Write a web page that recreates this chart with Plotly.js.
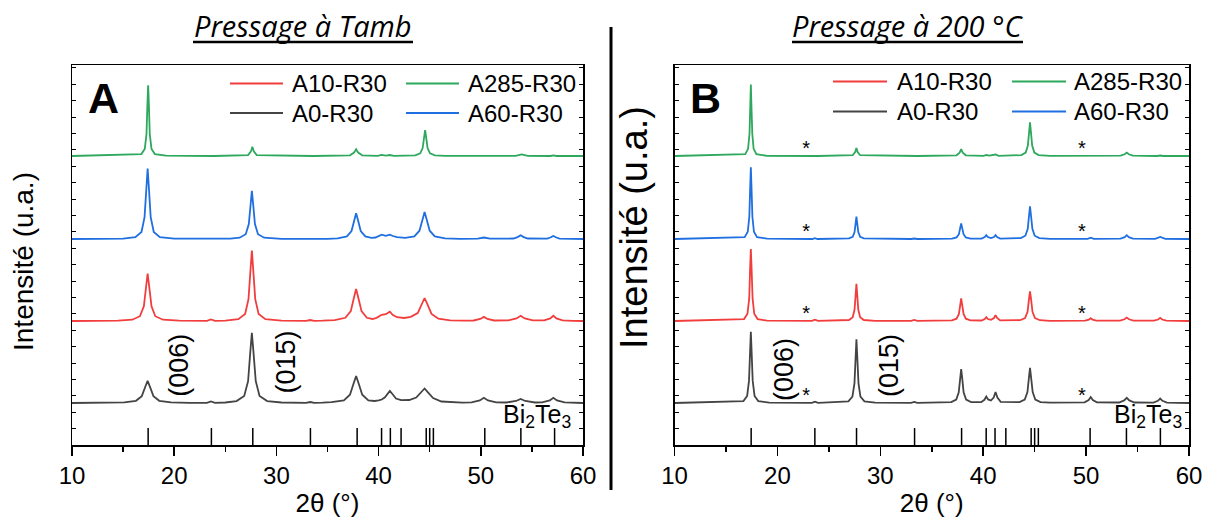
<!DOCTYPE html>
<html><head><meta charset="utf-8">
<script src="https://cdn.plot.ly/plotly-3.0.1.min.js"></script>
<style>html,body{margin:0;padding:0;background:#fff}#chart{width:1210px;height:518px}</style>
</head><body><div id="chart"></div>
<script>
// ---------------- data ----------------
const seriesNames = ['A0-R30', 'A10-R30', 'A60-R30', 'A285-R30'];
const panelTitles = ['Pressage à Tamb', 'Pressage à 200 °C'];
const panelLetters = ['A', 'B'];
const reflexLabels = ['(006)', '(015)'];
const refPhaseLabel = 'Bi<sub>2</sub>Te<sub>3</sub>';
const impurityMark = '*';
const impurityAngles = [22.8, 49.6];
const xTickVals = [10, 20, 30, 40, 50, 60];
const xTitle = '2θ (°)';
const yTitle = 'Intensité (u.a.)';

// Bi2Te3 reference reflections (2θ, °)
const bi2te3Peaks = [17.45, 23.64, 27.69, 33.33, 37.9, 40.29, 41.15, 42.2, 44.66, 45.0, 45.36, 50.39, 53.92, 57.22];

// Pressage à Tamb : [2θ, intensity above own baseline]
const tambA0 = [[10,0],[13.5,0.2],[15.12,0.6],[16.26,2.2],[16.83,6.9],[17.17,16.2],[17.4,22.1],[17.63,16.2],[17.97,6.9],[18.54,2.2],[19.68,0.6],[21.5,0.2],[23.2,0.1],[23.6,1.5],[24.0,0.1],[25.0,0.5],[26.1,1.9],[26.85,7.0],[27.23,21.8],[27.45,51.6],[27.6,70.2],[27.75,51.6],[27.98,21.8],[28.35,7.0],[29.1,1.9],[30.5,0.5],[32.9,0.1],[33.3,1.0],[33.7,0.1],[34.5,0.3],[35.4,0.8],[36.6,2.7],[37.2,8.3],[37.56,19.8],[37.8,26.9],[38.04,19.8],[38.4,8.3],[39.0,2.7],[39.6,2.0],[40.0,2.6],[40.3,3.5],[40.6,5.5],[40.85,9.5],[41.1,12.1],[41.35,9.0],[41.7,4.5],[42.2,2.8],[43.0,3.0],[43.68,5.5],[44.17,10.7],[44.5,14.5],[44.83,10.7],[45.33,5.0],[46.15,1.5],[47.3,0.6],[48.2,0.4],[49.1,0.6],[49.9,2.6],[50.3,5.2],[50.7,2.6],[51.5,0.6],[52.5,0.5],[53.45,2.0],[53.9,4.1],[54.35,2.0],[55.3,0.5],[56.0,0.6],[56.75,2.6],[57.1,5.2],[57.45,2.6],[58.2,0.6],[59,0.2],[60,0]];
const tambA10 = [[10,0],[14.5,0.3],[15.9,1.3],[16.65,4.8],[17.03,14.7],[17.25,34.9],[17.4,47.5],[17.55,34.9],[17.78,14.7],[18.15,4.8],[18.9,1.3],[20.5,0.4],[23.2,0.1],[23.6,1.5],[24.0,0.1],[25.0,0.4],[26.28,1.9],[26.94,7.1],[27.27,21.9],[27.47,51.8],[27.6,70.5],[27.73,51.8],[27.93,21.9],[28.26,7.1],[28.92,1.9],[30.5,0.4],[32.9,0.1],[33.3,1.0],[33.7,0.1],[34.5,0.3],[35.7,0.9],[36.75,3.2],[37.28,9.9],[37.59,23.5],[37.8,32],[38.01,23.5],[38.33,9.9],[38.85,3.2],[39.4,2.0],[39.8,3.2],[40.3,6.2],[40.7,6.8],[41.1,9.3],[41.4,6.0],[41.8,3.8],[42.5,3.0],[43.15,4.2],[43.83,8.0],[44.23,17.5],[44.5,23],[44.77,16.9],[45.18,7.1],[45.85,2.3],[47.0,0.7],[48.3,0.4],[49.3,0.5],[49.95,2.0],[50.3,4.1],[50.65,2.0],[51.3,0.5],[52.7,0.6],[53.5,2.6],[53.9,5.2],[54.3,2.6],[55.1,0.6],[56.2,0.6],[56.8,2.6],[57.1,5.2],[57.4,2.6],[58.0,0.6],[59,0.2],[60,0]];
const tambA60 = [[10,0],[15.0,0.3],[16.2,1.9],[16.8,7.1],[17.1,21.9],[17.28,51.8],[17.4,70.5],[17.52,51.8],[17.7,21.9],[18.0,7.1],[18.6,1.9],[20.0,0.4],[23.3,0],[23.6,0.7],[23.9,0],[25.5,0.3],[26.4,1.3],[27.0,4.8],[27.3,14.9],[27.48,35.4],[27.6,48.2],[27.72,35.4],[27.9,14.9],[28.2,4.8],[28.8,1.3],[30.5,0.2],[33.0,0],[33.3,0.6],[33.6,0],[35.0,0.2],[36.0,0.7],[36.9,2.6],[37.35,8],[37.62,19],[37.8,25.8],[37.98,19],[38.25,8],[38.7,2.6],[39.3,1.2],[39.7,1.5],[40.05,3.0],[40.3,4.4],[40.7,3.2],[41.1,4.4],[41.4,3.0],[41.8,1.8],[42.6,1.2],[43.5,2.7],[44.0,8.3],[44.3,19.8],[44.5,26.9],[44.7,19.8],[45.0,8.3],[45.5,2.7],[46.5,0.7],[48.0,0.2],[49.7,0.3],[50.3,1.5],[50.9,0.3],[53.2,0.5],[53.6,1.9],[53.9,3.8],[54.2,1.9],[54.6,0.5],[56.5,0.4],[56.8,1.5],[57.1,3.1],[57.4,1.5],[57.7,0.4],[59,0.1],[60,0]];
const tambA285 = [[10,0],[16.79,1.9],[17.12,7.1],[17.29,21.9],[17.38,52],[17.45,70.8],[17.52,52],[17.61,21.9],[17.78,7.1],[18.11,1.9],[19.2,0.3],[23.3,0],[23.6,0.5],[23.9,0],[27.23,0.9],[27.51,4.6],[27.65,9.3],[27.79,4.6],[28.07,0.9],[33.0,0],[33.3,0.4],[33.6,0],[37.2,0.7],[37.6,3.4],[37.8,6.8],[38.0,3.4],[38.4,0.7],[39.9,0.1],[40.3,1.2],[40.7,0.4],[41.1,1.0],[41.5,0.1],[43.59,0.7],[44.07,2.6],[44.31,8],[44.45,19],[44.55,25.8],[44.65,19],[44.79,8],[45.03,2.6],[45.51,0.7],[46.5,0.1],[50.0,0],[50.35,0.4],[50.7,0],[53.4,0.1],[54.0,1.6],[54.6,0.1],[56.8,0],[57.1,0.7],[57.4,0],[60,0]];

// Pressage à 200 °C
const hotA0 = [[10,0],[16.7,1.9],[17.06,7.1],[17.24,22.1],[17.35,52.4],[17.42,71.3],[17.49,52.4],[17.6,22.1],[17.78,7.1],[18.14,1.9],[19.2,0.4],[23.35,0.1],[23.65,1.3],[23.95,0.1],[26.9,1.7],[27.29,6.4],[27.49,19.7],[27.6,46.8],[27.68,63.7],[27.76,46.8],[27.88,19.7],[28.07,6.4],[28.46,1.7],[29.5,0.3],[33.0,0.1],[33.3,1.0],[33.6,0.1],[36.9,0.9],[37.38,3.4],[37.62,10.5],[37.76,24.8],[37.86,33.8],[37.96,24.8],[38.1,10.5],[38.34,3.4],[38.82,0.9],[39.8,0.8],[40.12,3.2],[40.3,6.5],[40.48,3.6],[40.75,2.5],[41.02,5.5],[41.2,11],[41.38,5.5],[41.7,1.2],[43.53,0.9],[44.04,3.5],[44.3,10.9],[44.45,25.8],[44.55,35.1],[44.65,25.8],[44.81,10.9],[45.06,3.5],[45.57,0.9],[46.5,0.3],[49.85,0.6],[50.25,3.0],[50.45,5.9],[50.65,3.0],[51.05,0.6],[53.2,0.5],[53.7,2.6],[53.95,5.2],[54.2,2.6],[54.7,0.5],[56.55,0.4],[56.98,2.2],[57.2,4.4],[57.42,2.2],[57.85,0.4],[60,0]];
const hotA10 = [[10,0],[16.76,1.9],[17.09,7.2],[17.26,22.3],[17.35,52.9],[17.42,72],[17.49,52.9],[17.59,22.3],[17.75,7.2],[18.08,1.9],[19.0,0.4],[23.35,0.1],[23.65,1.3],[23.95,0.1],[26.96,1.0],[27.32,3.7],[27.5,11.5],[27.61,27.3],[27.68,37.2],[27.75,27.3],[27.86,11.5],[28.04,3.7],[28.4,1.0],[29.5,0.2],[33.0,0.1],[33.3,1.0],[33.6,0.1],[36.96,0.6],[37.41,2.3],[37.64,7.0],[37.77,16.7],[37.86,22.7],[37.95,16.7],[38.09,7.0],[38.31,2.3],[38.76,0.6],[39.85,0.5],[40.15,1.9],[40.3,3.8],[40.45,2.0],[40.75,1.2],[41.05,3.0],[41.2,5.9],[41.35,3.0],[41.65,0.6],[43.59,0.8],[44.07,3.0],[44.31,9.2],[44.45,21.8],[44.55,29.6],[44.65,21.8],[44.79,9.2],[45.03,3.0],[45.51,0.8],[46.5,0.2],[49.9,0.3],[50.27,1.4],[50.45,2.8],[50.63,1.4],[51.0,0.3],[53.3,0.3],[53.73,1.7],[53.95,3.4],[54.17,1.7],[54.6,0.3],[56.6,0.3],[57.0,1.5],[57.2,3.1],[57.4,1.5],[57.8,0.3],[60,0]];
const hotA60 = [[10,0],[16.82,1.9],[17.12,7.2],[17.27,22.2],[17.36,52.6],[17.42,71.6],[17.48,52.6],[17.57,22.2],[17.72,7.2],[18.02,1.9],[19.0,0.3],[23.4,0],[23.65,0.8],[23.9,0],[26.96,0.6],[27.32,2.2],[27.5,6.9],[27.61,16.5],[27.68,22.4],[27.75,16.5],[27.86,6.9],[28.04,2.2],[28.4,0.6],[33.0,0],[33.3,0.5],[33.6,0],[36.96,0.4],[37.41,1.6],[37.64,4.8],[37.77,11.4],[37.86,15.5],[37.95,11.4],[38.09,4.8],[38.31,1.6],[38.76,0.4],[39.85,0.4],[40.15,1.9],[40.3,3.8],[40.45,1.9],[40.75,0.9],[41.05,1.9],[41.2,3.8],[41.35,1.9],[41.65,0.4],[43.65,0.9],[44.1,3.3],[44.33,10.1],[44.46,24],[44.55,32.7],[44.64,24],[44.78,10.1],[45.0,3.3],[45.45,0.9],[46.5,0.2],[50.15,0.1],[50.45,1.3],[50.75,0.1],[53.35,0.4],[53.75,1.9],[53.95,3.8],[54.15,1.9],[54.55,0.4],[56.7,0.2],[57.2,2.1],[57.7,0.2],[60,0]];
const hotA285 = [[10,0],[16.88,1.9],[17.15,7.2],[17.29,22.2],[17.37,52.6],[17.42,71.6],[17.47,52.6],[17.56,22.2],[17.69,7.2],[17.96,1.9],[19.0,0.2],[23.4,0],[23.65,0.3],[23.9,0],[27.32,0.8],[27.56,4.0],[27.68,7.9],[27.8,4.0],[28.04,0.8],[33.0,0],[33.3,0.3],[33.6,0],[37.41,0.7],[37.71,3.4],[37.86,6.8],[38.01,3.4],[38.31,0.7],[40.05,0.1],[40.3,1.0],[40.6,0.3],[41.2,1.5],[41.5,0.1],[43.71,0.9],[44.13,3.4],[44.34,10.4],[44.47,24.8],[44.55,33.7],[44.63,24.8],[44.76,10.4],[44.97,3.4],[45.39,0.9],[46.5,0.1],[50.2,0],[50.45,0.5],[50.7,0],[53.35,0.3],[53.75,1.7],[53.95,3.4],[54.15,1.7],[54.55,0.3],[56.9,0],[57.2,0.5],[57.5,0],[60,0]];

// ---------------- style / geometry ----------------
const W = 1210, H = 518;
const px = v => v / W, py = v => 1 - v / H;
const FONT = 'Arial';
const seriesColors = ['#444444', '#f23d3d', '#1f6fe0', '#2da85c'];
const stackOffsets = [42, 124, 206, 289];
const stickTop = 17;
const yMax = 380;
const plotTop = 65, plotBottom = 445;

const panels = [
  {xa: 'x', ya: 'y', xd: [72, 583], sets: [tambA0, tambA10, tambA60, tambA285],
   title: {cx: 303, ul: [193, 413]}, letter: 86, legend: {col1: [230, 283, 290], col2: [406, 459, 466], rows: [83.5, 113]},
   ytitle: {x: 23, y: 262, size: 28}, labels: [[20.45, 80], [30.9, 83]], bi: 59.05, stars: false},
  {xa: 'x2', ya: 'y2', xd: [674.5, 1189], sets: [hotA0, hotA10, hotA60, hotA285],
   title: {cx: 908, ul: [792, 1023]}, letter: 688, legend: {col1: [833, 887, 895], col2: [1012, 1066, 1072], rows: [81.5, 111.5]},
   ytitle: {x: 634, y: 228, size: 38}, labels: [[20.64, 76], [30.85, 79]], bi: 59.5, stars: true}
];

const traces = [];
const annotations = [];
const shapes = [];
const layout = {
  width: W, height: H, margin: {l: 0, r: 0, t: 0, b: 0},
  paper_bgcolor: '#fff', plot_bgcolor: '#fff', showlegend: false,
  font: {family: FONT, color: '#000'}, hovermode: false
};

panels.forEach((p, k) => {
  const sfx = k === 0 ? '' : '2';
  const topName = 'xaxis' + (k === 0 ? '3' : '4');
  p.sets.forEach((set, i) => {
    traces.push({
      x: set.map(d => d[0]), y: set.map(d => d[1] + stackOffsets[i]),
      xaxis: p.xa, yaxis: p.ya, mode: 'lines', name: seriesNames[i],
      line: {color: seriesColors[i], width: 1.8}, showlegend: false
    });
  });
  const sx = [], sy = [];
  bi2te3Peaks.forEach(v => { sx.push(v, v, null); sy.push(0, stickTop, null); });
  traces.push({x: sx, y: sy, xaxis: p.xa, yaxis: p.ya, mode: 'lines', name: 'Bi2Te3',
    line: {color: '#000', width: 1.5}, showlegend: false});

  if (p.stars) {
    const ax = [], ay = [], at = [];
    stackOffsets.forEach(off => impurityAngles.forEach(a => { ax.push(a); ay.push(off + 6); at.push(impurityMark); }));
    traces.push({x: ax, y: ay, xaxis: p.xa, yaxis: p.ya, mode: 'text', text: at, textposition: 'middle center',
      textfont: {family: FONT, size: 20, color: '#000'}, name: 'impurity', showlegend: false});
  }

  layout['xaxis' + sfx] = {
    domain: [px(p.xd[0]), px(p.xd[1])], range: [10, 60], anchor: 'y' + sfx,
    tick0: xTickVals[0], dtick: xTickVals[1] - xTickVals[0],
    ticks: 'outside', ticklen: 9, tickwidth: 1.5, tickcolor: '#000',
    minor: {dtick: (xTickVals[1] - xTickVals[0]) / 2, tick0: xTickVals[0], ticks: 'outside', ticklen: 5, tickwidth: 1.5, tickcolor: '#000'},
    showline: true, linewidth: 1.5, linecolor: '#000', mirror: true,
    showgrid: false, zeroline: false, fixedrange: true,
    tickfont: {family: FONT, size: 24, color: '#000'},
    title: {text: xTitle, font: {family: FONT, size: 26, color: '#000'}, standoff: 14}
  };
  layout[topName] = {
    overlaying: 'x' + sfx, anchor: 'y' + sfx, side: 'top', range: [10, 60],
    tick0: xTickVals[0], dtick: (xTickVals[1] - xTickVals[0]) / 2,
    ticks: 'inside', ticklen: 3, tickwidth: 1, tickcolor: '#000',
    showticklabels: false, showline: false, showgrid: false, zeroline: false
  };
  layout['yaxis' + sfx] = {
    domain: [py(plotBottom), py(plotTop)], range: [0, yMax], anchor: 'x' + sfx,
    tick0: 0, dtick: 16.4, ticks: 'inside', ticklen: 4, tickwidth: 1, tickcolor: '#000',
    showticklabels: false, showline: true, linewidth: 1.5, linecolor: '#000', mirror: 'ticks',
    showgrid: false, zeroline: false, fixedrange: true
  };

  annotations.push({xref: 'paper', yref: 'paper', x: px(p.title.cx), y: py(25), xanchor: 'center', yanchor: 'middle',
    text: '<i>' + panelTitles[k] + '</i>', showarrow: false, font: {family: 'Open Sans', size: 29, color: '#000'}});
  shapes.push({type: 'line', xref: 'paper', yref: 'paper', x0: px(p.title.ul[0]), x1: px(p.title.ul[1]), y0: py(42), y1: py(42),
    line: {color: '#000', width: 2.5}});
  annotations.push({xref: 'paper', yref: 'paper', x: px(p.letter), y: py(98), xanchor: 'left', yanchor: 'middle',
    text: '<b>' + panelLetters[k] + '</b>', showarrow: false, font: {family: FONT, size: 43, color: '#000'}});
  annotations.push({xref: 'paper', yref: 'paper', x: px(p.ytitle.x), y: py(p.ytitle.y), xanchor: 'center', yanchor: 'middle',
    text: yTitle, textangle: -90, showarrow: false, font: {family: FONT, size: p.ytitle.size, color: '#000'}});
  reflexLabels.forEach((t, j) => {
    annotations.push({xref: p.xa, yref: p.ya, x: p.labels[j][0], y: p.labels[j][1], xanchor: 'center', yanchor: 'middle',
      text: t, textangle: -90, showarrow: false, font: {family: FONT, size: 27, color: '#000'}});
  });
  annotations.push({xref: p.xa, yref: p.ya, x: p.bi, y: 29, xanchor: 'right', yanchor: 'middle',
    text: refPhaseLabel, showarrow: false, font: {family: FONT, size: 25, color: '#000'}});
  const cols = [[1, 0], [3, 2]];
  [p.legend.col1, p.legend.col2].forEach((c, ci) => {
    cols[ci].forEach((si, ri) => {
      const yy = p.legend.rows[ri];
      shapes.push({type: 'line', xref: 'paper', yref: 'paper', x0: px(c[0]), x1: px(c[1]), y0: py(yy), y1: py(yy),
        line: {color: seriesColors[si], width: 1.8}});
      annotations.push({xref: 'paper', yref: 'paper', x: px(c[2]), y: py(yy), xanchor: 'left', yanchor: 'middle',
        text: seriesNames[si], showarrow: false, font: {family: FONT, size: 24, color: '#000'}});
    });
  });
});

shapes.push({type: 'line', xref: 'paper', yref: 'paper', x0: px(611), x1: px(611), y0: py(27), y1: py(490),
  line: {color: '#000', width: 3}});

layout.annotations = annotations;
layout.shapes = shapes;

Plotly.newPlot('chart', traces, layout, {staticPlot: true, displayModeBar: false});
</script>
</body></html>
